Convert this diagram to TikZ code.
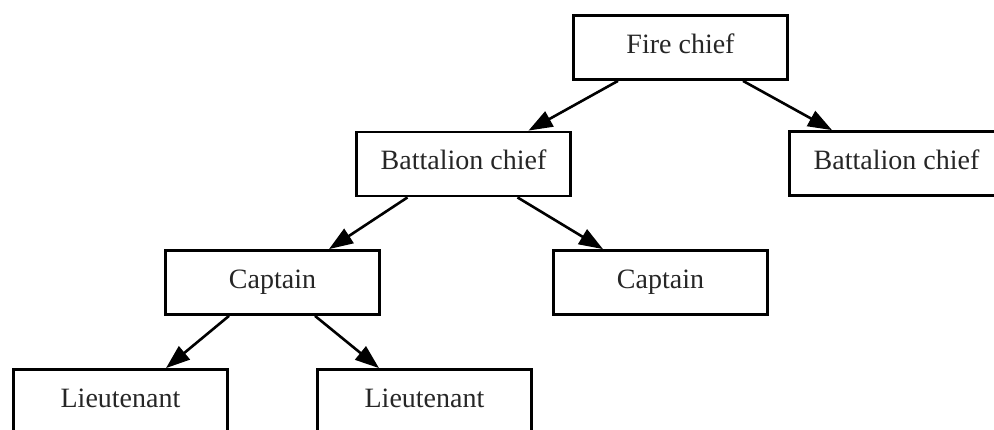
\documentclass[tikz,border=0pt]{standalone}
\usepackage{fontspec}
\setmainfont{Liberation Serif}
\usetikzlibrary{arrows.meta,calc}
\begin{document}
\begin{tikzpicture}[x=1pt,y=-1pt,
  rank/.style={draw=black, line width=2.8pt, fill=white, minimum width=214pt, minimum height=64pt,
    inner sep=0pt, text height=18pt, text depth=6pt, font=\fontsize{28}{32}\selectfont, text=black!85},
  link/.style={line width=2.6pt, -{Triangle[length=24pt,width=17pt]}}]
\useasboundingbox (0,0) rectangle (994,430);
\clip (0,0) rectangle (994,430);
\node[rank] (fire) at (680.5,47.5) {Fire chief};
\node[rank] (bc1) at (463.5,164) {Battalion chief};
\node[rank] (bc2) at (896.5,163.5) {Battalion chief};
\node[rank] (cap1) at (272.5,282.5) {Captain};
\node[rank] (cap2) at (660.5,282.5) {Captain};
\node[rank] (lt1) at (120.5,401.5) {Lieutenant};
\node[rank] (lt2) at (424.5,401.5) {Lieutenant};
\draw[link] ($(fire.south)+(-62.5,0)$) -- ($(bc1.north)+(65,0)$);
\draw[link] ($(fire.south)+(62.5,0)$) -- ($(bc2.north)+(-64.5,0)$);
\draw[link] ($(bc1.south)+(-56,0)$) -- ($(cap1.north)+(56.5,0)$);
\draw[link] ($(bc1.south)+(54,0)$) -- ($(cap2.north)+(-57.5,0)$);
\draw[link] ($(cap1.south)+(-43.5,0)$) -- ($(lt1.north)+(45.5,0)$);
\draw[link] ($(cap1.south)+(42.5,0)$) -- ($(lt2.north)+(-45.5,0)$);
\end{tikzpicture}
\end{document}
